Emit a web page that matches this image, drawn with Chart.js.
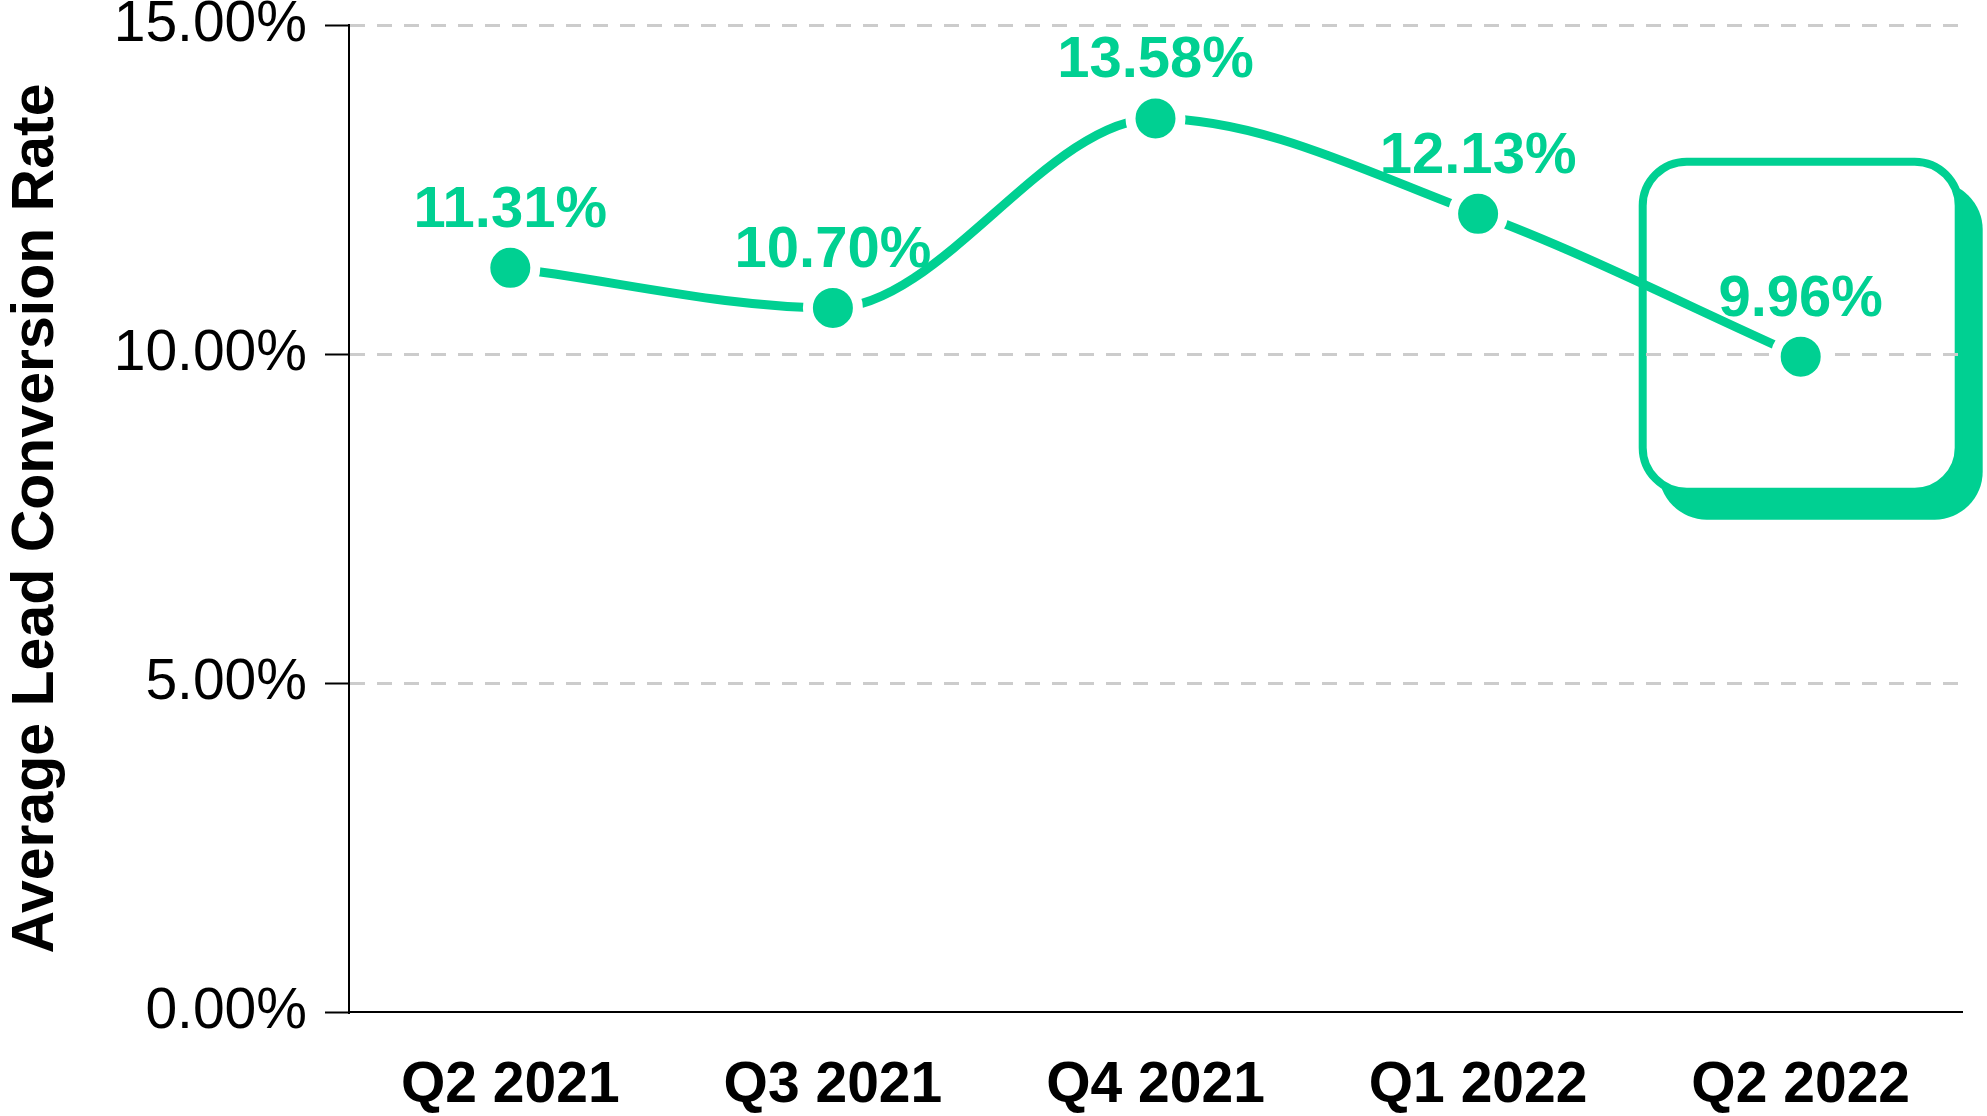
<!DOCTYPE html>
<html>
<head>
<meta charset="utf-8">
<script src="https://cdn.jsdelivr.net/npm/chart.js@4"></script>
<style>
  html, body { margin: 0; padding: 0; background: #ffffff; }
  #wrap { width: 1987px; height: 1116px; position: relative; }
</style>
</head>
<body>
<div id="wrap"><canvas id="c"></canvas></div>
<script>
const categories = ['Q2 2021', 'Q3 2021', 'Q4 2021', 'Q1 2022', 'Q2 2022'];
const conversionRates = [11.31, 10.70, 13.58, 12.13, 9.96];
const yTicks = [0, 5, 10, 15];
const highlightIndex = 4;

const GREEN = '#00D092';
const FONT = "'Liberation Sans', Arial, Helvetica, sans-serif";

const highlightBox = {
  id: 'highlightBox',
  beforeDraw(chart) {
    const xs = chart.scales.x, ys = chart.scales.y;
    const px = xs.getPixelForValue(highlightIndex);
    const py = ys.getPixelForValue(conversionRates[highlightIndex]);
    const x = px - 158, y = py - 195, w = 316, h = 330, r = 44;
    const ctx = chart.ctx;
    ctx.save();
    ctx.fillStyle = GREEN;
    ctx.beginPath();
    ctx.roundRect(x - 4 + 20, y - 4 + 24, w + 8, h + 8, r + 4);
    ctx.fill();
    ctx.fillStyle = '#ffffff';
    ctx.strokeStyle = GREEN;
    ctx.lineWidth = 8;
    ctx.beginPath();
    ctx.roundRect(x, y, w, h, r);
    ctx.fill();
    ctx.stroke();
    ctx.restore();
  }
};

const valueLabels = {
  id: 'valueLabels',
  afterDatasetsDraw(chart) {
    const ctx = chart.ctx;
    const meta = chart.getDatasetMeta(0);
    ctx.save();
    ctx.fillStyle = GREEN;
    ctx.font = "bold 58px " + FONT;
    ctx.textAlign = 'center';
    ctx.textBaseline = 'middle';
    meta.data.forEach((pt, i) => {
      ctx.fillText(conversionRates[i].toFixed(2) + '%', pt.x, pt.y - 57);
    });
    ctx.restore();
  }
};

new Chart(document.getElementById('c'), {
  type: 'line',
  data: {
    labels: categories,
    datasets: [{
      data: conversionRates,
      borderColor: GREEN,
      borderWidth: 9,
      cubicInterpolationMode: 'monotone',
      fill: false,
      pointRadius: 25,
      pointHoverRadius: 25,
      pointBackgroundColor: GREEN,
      pointBorderColor: '#ffffff',
      pointBorderWidth: 10,
      pointHoverBorderWidth: 10,
      clip: false
    }]
  },
  options: {
    responsive: true,
    maintainAspectRatio: false,
    animation: false,
    events: [],
    layout: { autoPadding: false, padding: { top: 25, right: 25, bottom: 0, left: 0 } },
    plugins: {
      legend: { display: false },
      tooltip: { enabled: false },
      title: { display: false }
    },
    scales: {
      x: {
        offset: true,
        grid: { display: false, drawTicks: false },
        border: { display: true, color: '#000000', width: 2 },
        ticks: {
          color: '#000000',
          font: { family: FONT, size: 57, weight: 'bold' },
          padding: 40,
          maxRotation: 0,
          autoSkip: false
        },
        afterFit(s) {
          s.height = 104;
          s.paddingLeft = 0; s.paddingRight = 0;
        }
      },
      y: {
        min: 0,
        max: 15,
        afterBuildTicks(s) { s.ticks = yTicks.map(v => ({ value: v })); },
        ticks: {
          color: '#000000',
          font: { family: FONT, size: 57 },
          padding: 18,
          callback: v => Number(v).toFixed(2) + '%'
        },
        grid: {
          color: c => (c.tick && c.tick.value === 0) ? 'rgba(0,0,0,0)' : '#cccccc',
          lineWidth: 3,
          tickColor: '#000000',
          tickWidth: 2,
          tickLength: 24
        },
        border: { display: true, color: '#000000', width: 2, dash: [15, 12] },
        title: {
          display: true,
          text: 'Average Lead Conversion Rate',
          color: '#000000',
          font: { family: FONT, size: 59, weight: 'bold' },
          padding: { top: 1, bottom: 0 }
        },
        afterFit(s) {
          s.width = 349;
          s.paddingTop = 0; s.paddingBottom = 0;
        }
      }
    }
  },
  plugins: [highlightBox, valueLabels]
});
</script>
</body>
</html>
